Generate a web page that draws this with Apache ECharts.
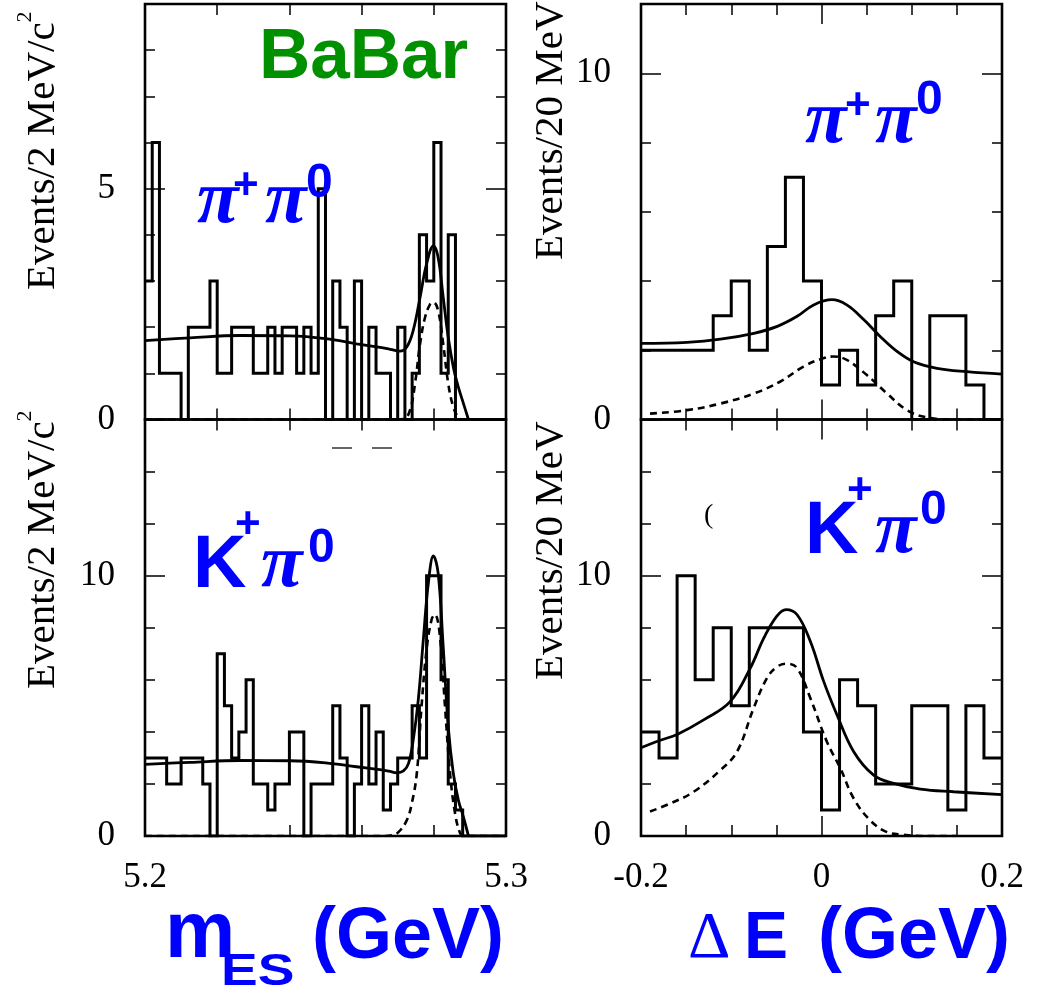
<!DOCTYPE html>
<html><head><meta charset="utf-8">
<script src="https://cdn.jsdelivr.net/npm/echarts@6/dist/echarts.min.js"></script>
<style>html,body{margin:0;padding:0;background:#fff}#c{width:1040px;height:987px}</style>
</head><body><div id="c"></div>
<script>
// ---------------- data ----------------
const mesStart = 5.2, mesBinWidth = 0.002;
const deStart = -0.2, deBinWidth = 0.02;

// m_ES histograms (50 bins of 2 MeV)
const mesPiPi = [3,6,1,1,1,0,2,2,2,3,1,1,2,2,2,1,1,2,1,2,2,1,2,1,5,0,3,2,0,3,0,2,1,1,0,2,0,1,4,3,6,1,4,0,0,0,0,0,0,0];
const mesKPi  = [3,3,3,2,2,3,3,3,2,0,7,5,3,4,6,2,2,1,2,2,4,4,0,2,2,2,5,3,0,2,5,2,4,1,2,3,3,5,3,10,10,6,2,1,0,0,0,0,0,0];
// Delta E histograms (20 bins of 20 MeV)
const dePiPi = [2,2,2,2,3,4,2,5,7,4,1,2,1,3,4,0,3,3,1,0];
const deKPi  = [4,3,10,6,8,5,8,8,8,4,1,6,5,2,2,5,5,1,5,3];

// fit curves: [x, y]
const mesPiPiTotal = [[5.2,1.71],[5.2125,1.77],[5.2263,1.82],[5.2402,1.81],[5.25,1.75],[5.2586,1.64],[5.2651,1.56],[5.2679,1.52],[5.2706,1.48],[5.2725,1.57],[5.2743,1.93],[5.2762,2.65],[5.278,3.37],[5.2799,3.76],[5.2812,3.51],[5.2826,2.65],[5.284,1.78],[5.2854,1.14],[5.2868,0.70],[5.2882,0.35],[5.2896,0]];
const mesPiPiSignal = [[5.2,0],[5.268,0],[5.2716,0.01],[5.2734,0.2],[5.2748,0.78],[5.2762,1.64],[5.2776,2.22],[5.279,2.5],[5.2799,2.54],[5.2812,2.36],[5.2826,1.64],[5.284,0.78],[5.2854,0.27],[5.2868,0.05],[5.2882,0],[5.3,0]];
const mesKPiTotal = [[5.2,2.75],[5.2125,2.83],[5.2263,2.9],[5.2402,2.89],[5.25,2.81],[5.2586,2.66],[5.2651,2.55],[5.2679,2.48],[5.2697,2.43],[5.2716,2.5],[5.273,2.79],[5.2743,3.69],[5.2757,5.23],[5.2771,7.54],[5.2785,9.73],[5.2799,10.76],[5.2812,10.1],[5.2826,7.29],[5.284,4.2],[5.2854,2.41],[5.2868,1.38],[5.2882,0.73],[5.2896,0]];
const mesKPiSignal = [[5.2,0],[5.265,0],[5.2683,0.03],[5.2702,0.15],[5.2725,0.6],[5.2739,1.25],[5.2753,2.41],[5.2766,4.97],[5.278,7.16],[5.2794,8.32],[5.2803,8.51],[5.2817,7.67],[5.2831,4.97],[5.2845,2.41],[5.2859,0.86],[5.2873,0.1],[5.2882,0],[5.3,0]];
const dePiPiTotal = [[-0.2,2.2],[-0.149,2.23],[-0.112,2.32],[-0.075,2.49],[-0.049,2.69],[-0.027,2.98],[-0.0087,3.31],[0.0116,3.46],[0.028,3.31],[0.047,2.88],[0.065,2.4],[0.084,1.96],[0.102,1.67],[0.128,1.48],[0.161,1.38],[0.2,1.31]];
const dePiPiSignal = [[-0.19,0.17],[-0.149,0.27],[-0.112,0.46],[-0.075,0.75],[-0.046,1.09],[-0.02,1.53],[-0.0013,1.74],[0.0135,1.82],[0.028,1.72],[0.05,1.29],[0.0726,0.75],[0.0947,0.27],[0.117,0.06],[0.1465,0],[0.18,0]];
const deKPiTotal = [[-0.2,3.39],[-0.1786,3.68],[-0.16,3.9],[-0.1306,4.46],[-0.101,5.17],[-0.0789,6.45],[-0.064,7.6],[-0.0497,8.44],[-0.0393,8.7],[-0.027,8.5],[-0.0124,7.48],[0.0024,5.94],[0.0172,4.65],[0.0357,3.24],[0.0578,2.34],[0.08,2.02],[0.1095,1.8],[0.1464,1.7],[0.2,1.59]];
const deKPiSignal = [[-0.19,0.94],[-0.1675,1.25],[-0.1416,1.7],[-0.1121,2.53],[-0.0936,3.24],[-0.0752,4.91],[-0.0604,6.07],[-0.0493,6.5],[-0.0382,6.62],[-0.027,6.45],[-0.0124,5.3],[0.006,3.62],[0.0209,2.6],[0.0357,1.44],[0.054,0.6],[0.0726,0.15],[0.091,0.05],[0.11,0],[0.15,0]];

// tick labels
const mesTickLabels = [5.2, 5.3];
const deTickLabels = [-0.2, 0, 0.2];
const yLabelsPiPiMes = [0, 5];
const yLabelsOther = [0, 10];

// ---------------- build chart ----------------
const grids = [], xAxes = [], yAxes = [], series = [];
const labelFont = {fontFamily: '"Liberation Serif"', fontSize: 35, color: '#000'};
function fmtFor(list) {
  return function (v) {
    for (const l of list) if (Math.abs(l - v) < 1e-7) return String(l);
    return '';
  };
}
function histData(start, w, vals) {
  const d = vals.map((v, i) => [+(start + i * w).toFixed(5), v]);
  d.push([+(start + vals.length * w).toFixed(5), vals[vals.length - 1]]);
  return d;
}
function addPanel(p) {
  const gi = grids.length;
  grids.push(Object.assign({show: true, borderColor: '#000', borderWidth: 2.6, containLabel: false, outerBoundsMode: 'none'}, p.grid));
  const xi = xAxes.length, yi = yAxes.length;
  const tick = (len) => ({show: true, inside: true, length: len, lineStyle: {color: '#000', width: 1.5}});
  const xs = [['bottom', p.xMinor, 11, true], ['top', p.xMinor, 11, false], ['bottom', p.xMajor, 20, false], ['top', p.xMajor, 20, false]];
  xs.forEach(([pos, iv, len, lab]) => {
    xAxes.push({gridIndex: gi, type: 'value', position: pos, min: p.xMin, max: p.xMax, interval: iv,
      splitLine: {show: false}, axisLine: {show: false, onZero: false}, axisTick: tick(len),
      axisLabel: (lab && p.xLabels) ? Object.assign({show: true, margin: 24, formatter: fmtFor(p.xLabels), showMinLabel: true, showMaxLabel: true}, labelFont) : {show: false}});
  });
  const ys = [['left', p.yMinor, 10, true], ['right', p.yMinor, 10, false], ['left', p.yMajor, 20, false], ['right', p.yMajor, 20, false]];
  ys.forEach(([pos, iv, len, lab]) => {
    yAxes.push({gridIndex: gi, type: 'value', position: pos, min: p.yMin, max: p.yMax, interval: iv,
      splitLine: {show: false}, axisLine: {show: false, onZero: false}, axisTick: tick(len),
      axisLabel: (lab && p.yLabels) ? Object.assign({show: true, margin: 30, formatter: fmtFor(p.yLabels)}, labelFont) : {show: false}});
  });
  const common = {type: 'line', xAxisIndex: xi, yAxisIndex: yi, symbol: 'none', silent: true, clip: true, animation: false};
  series.push(Object.assign({}, common, {step: 'end', data: histData(p.hStart, p.hW, p.hist), lineStyle: {color: '#000', width: 3, join: 'miter'}}));
  series.push(Object.assign({}, common, {smooth: 0.4, data: p.total, lineStyle: {color: '#000', width: 2.8}}));
  series.push(Object.assign({}, common, {smooth: 0.4, data: p.signal, lineStyle: {color: '#000', width: 2.6, type: [7, 5]}}));
}

addPanel({grid: {left: 145, top: 4, width: 361, height: 415.5}, xMin: 5.2, xMax: 5.3, xMinor: 0.02, xMajor: 0.1,
  yMin: 0, yMax: 9, yMinor: 1, yMajor: 5, yLabels: yLabelsPiPiMes, hStart: mesStart, hW: mesBinWidth, hist: mesPiPi, total: mesPiPiTotal, signal: mesPiPiSignal});
addPanel({grid: {left: 641, top: 4, width: 361, height: 415.5}, xMin: -0.2, xMax: 0.2, xMinor: 0.05, xMajor: 0.2,
  yMin: 0, yMax: 12, yMinor: 2, yMajor: 10, yLabels: yLabelsOther, hStart: deStart, hW: deBinWidth, hist: dePiPi, total: dePiPiTotal, signal: dePiPiSignal});
addPanel({grid: {left: 145, top: 419.5, width: 361, height: 416.5}, xMin: 5.2, xMax: 5.3, xMinor: 0.02, xMajor: 0.1, xLabels: mesTickLabels,
  yMin: 0, yMax: 16, yMinor: 2, yMajor: 10, yLabels: yLabelsOther, hStart: mesStart, hW: mesBinWidth, hist: mesKPi, total: mesKPiTotal, signal: mesKPiSignal});
addPanel({grid: {left: 641, top: 419.5, width: 361, height: 416.5}, xMin: -0.2, xMax: 0.2, xMinor: 0.05, xMajor: 0.2, xLabels: deTickLabels,
  yMin: 0, yMax: 16, yMinor: 2, yMajor: 10, yLabels: yLabelsOther, hStart: deStart, hW: deBinWidth, hist: deKPi, total: deKPiTotal, signal: deKPiSignal});

// ---------------- texts ----------------
const K = {sans: 0.3465, serif: 0.3375};
const FAM = {sans: '"Liberation Sans"', serif: '"Liberation Serif"'};
function T(str, fam, size, weight, style, color, left, baseline, extra) {
  return Object.assign({type: 'text', z: 100, x: left, y: baseline - K[fam] * size,
    style: {text: str, font: `${style} ${weight} ${size}px ${FAM[fam]}`, fill: color, align: 'left', verticalAlign: 'middle'}}, extra || {});
}
const mctx = document.createElement('canvas').getContext('2d');
function measure(str, font) { mctx.font = font; return mctx.measureText(str).width; }
function yTitle(main, sup, baselineX, startY) {
  const size = 41, font = `normal normal ${size}px ${FAM.serif}`;
  const els = [{type: 'text', z: 100, x: baselineX - K.serif * size, y: startY, rotation: Math.PI / 2,
    style: {text: main, font: font, fill: '#000', align: 'left', verticalAlign: 'middle'}}];
  if (sup) {
    const w = measure(main, font), ss = 22;
    els.push({type: 'text', z: 100, x: baselineX - 24 - K.serif * ss, y: startY - w, rotation: Math.PI / 2,
      style: {text: sup, font: `normal normal ${ss}px ${FAM.serif}`, fill: '#000', align: 'left', verticalAlign: 'middle'}});
  }
  return els;
}
const BLUE = '#0000ff', GREEN = '#009000';
const piFont = ['serif', 76, 'bold', 'italic'];
const graphics = [].concat(
  [T('BaBar', 'sans', 71, 'bold', 'normal', GREEN, 259, 83)],
  yTitle('Events/2 MeV/c', '2', 57, 290),
  yTitle('Events/2 MeV/c', '2', 57, 689),
  yTitle('Events/20 MeV', null, 565, 260),
  yTitle('Events/20 MeV', null, 565, 680),
  // pi+ pi0 (top-left)
  [T('π', ...piFont, BLUE, 197, 228), T('+', 'sans', 44, 'bold', 'normal', BLUE, 233, 202),
   T('π', ...piFont, BLUE, 265, 228), T('0', 'sans', 48, 'bold', 'normal', BLUE, 306, 200)],
  // pi+ pi0 (top-right)
  [T('π', ...piFont, BLUE, 805, 148), T('+', 'sans', 44, 'bold', 'normal', BLUE, 845, 122),
   T('π', ...piFont, BLUE, 875, 148), T('0', 'sans', 48, 'bold', 'normal', BLUE, 916, 117)],
  // K+ pi0 (bottom-left)
  [T('K', 'sans', 74, 'bold', 'normal', BLUE, 193, 592), T('+', 'sans', 44, 'bold', 'normal', BLUE, 235, 541),
   T('π', ...piFont, BLUE, 261, 592), T('0', 'sans', 48, 'bold', 'normal', BLUE, 308, 565)],
  // K+ pi0 (bottom-right)
  [T('K', 'sans', 74, 'bold', 'normal', BLUE, 805, 558), T('+', 'sans', 44, 'bold', 'normal', BLUE, 847, 507),
   T('π', ...piFont, BLUE, 875, 558), T('0', 'sans', 48, 'bold', 'normal', BLUE, 920, 527)],
  // axis titles
  [T('m', 'sans', 79, 'bold', 'normal', BLUE, 165, 963),
   T('ES', 'sans', 44, 'bold', 'normal', BLUE, 221, 988, {scaleX: 1.25}),
   T('(GeV)', 'sans', 72, 'bold', 'normal', BLUE, 312, 963)],
  [T('Δ', 'serif', 66, 'normal', 'normal', BLUE, 688, 962), T('E', 'sans', 66, 'bold', 'normal', BLUE, 744, 963),
   T('(GeV)', 'sans', 72, 'bold', 'normal', BLUE, 818, 963)],
  // small leftover marks seen in the original figure
  [{type: 'line', z: 100, shape: {x1: 332, y1: 448, x2: 352, y2: 448}, style: {stroke: '#000', lineWidth: 1.2}},
   {type: 'line', z: 100, shape: {x1: 372, y1: 448, x2: 392, y2: 448}, style: {stroke: '#000', lineWidth: 1.2}},
   T('(', 'serif', 28, 'normal', 'normal', '#000', 704, 525)]
);

const chart = echarts.init(document.getElementById('c'), null, {renderer: 'canvas'});
chart.setOption({
  backgroundColor: '#fff',
  animation: false,
  grid: grids,
  xAxis: xAxes,
  yAxis: yAxes,
  series: series,
  graphic: graphics
});
</script>
</body></html>
